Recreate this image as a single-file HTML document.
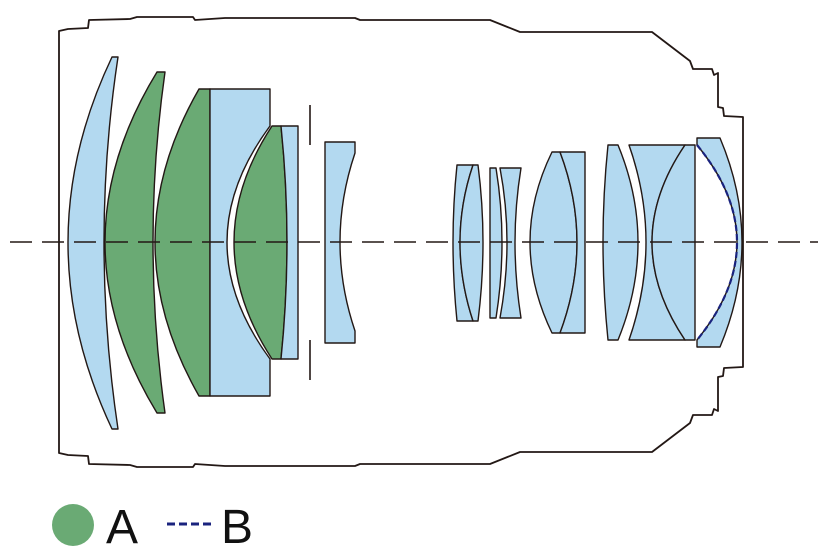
<!DOCTYPE html>
<html><head><meta charset="utf-8"><style>
html,body{margin:0;padding:0;background:#fff;width:820px;height:560px;overflow:hidden}
svg{display:block}
</style></head><body>
<svg width="820" height="560" viewBox="0 0 820 560" xmlns="http://www.w3.org/2000/svg">
<g fill="none" stroke="#231815" stroke-width="1.8" stroke-linejoin="round">
<path id="bt" d="M59,242 L59,31 L68,29 L88,28 L89,20 L130,19 L137,17 L193,17 L195,20 L225,18 L355,18 L360,20 L490,20 L520,32 L652,32 L690,61 L693,69 L712,69 L714,75 L718,73 L718,107 L723,108 L724,116 L743,117 L743,242"/>
<use href="#bt" transform="translate(0,484) scale(1,-1)"/>
</g>
<g stroke="#231815" stroke-width="1.4" stroke-linejoin="round">
<!-- L1 -->
<path fill="#b3d9f0" d="M112,57 L118,57 Q90,242 118,429 L112,429 Q24,242 112,57 Z"/>
<!-- L2 -->
<path fill="#6aaa74" d="M157,72 L165,72 Q141,242 165,413 L157,413 Q53,242 157,72 Z"/>
<!-- L3 -->
<path fill="#6aaa74" d="M199,89 L210,89 L210,396 L199,396 Q111,242 199,89 Z"/>
<!-- L4 -->
<path fill="#b3d9f0" d="M210,89 L270,89 L270,126 Q184,242 270,359 L270,396 L210,396 Z"/>
<!-- L5 -->
<path fill="#6aaa74" d="M272,126 L281,126 Q293,242 281,359 L272,359 Q196,242 272,126 Z"/>
<!-- L6 -->
<path fill="#b3d9f0" d="M281,126 L298,126 L298,359 L281,359 Q293,242 281,126 Z"/>
<!-- L7 -->
<path fill="#b3d9f0" d="M325,142 L355,142 L355,153 Q325,242 355,331 L355,343 L325,343 Z"/>
<!-- L8 -->
<path fill="#b3d9f0" d="M457,165 L473,165 Q447,242 473,321 L457,321 Q449,242 457,165 Z"/>
<path fill="#b3d9f0" d="M473,165 L478,165 Q488,242 478,321 L473,321 Q447,242 473,165 Z"/>
<!-- L9 -->
<path fill="#b3d9f0" d="M490,168 L496,168 Q508,242 496,318 L490,318 Z"/>
<!-- L10 -->
<path fill="#b3d9f0" d="M500,168 L521,168 Q509,242 521,318 L500,318 Q514,242 500,168 Z"/>
<!-- L11 -->
<path fill="#b3d9f0" d="M552,152 L560,152 Q594,242 560,333 L552,333 Q508,242 552,152 Z"/>
<path fill="#b3d9f0" d="M560,152 L585,152 L585,333 L560,333 Q594,242 560,152 Z"/>
<!-- L12 -->
<path fill="#b3d9f0" d="M608,145 L618,145 Q658,242 618,340 L608,340 Q598,242 608,145 Z"/>
<!-- L13 -->
<path fill="#b3d9f0" d="M629,145 L685,145 Q619,242 685,340 L629,340 Q663,242 629,145 Z"/>
<path fill="#b3d9f0" d="M685,145 L695,145 L695,340 L685,340 Q619,242 685,145 Z"/>
<!-- L14 -->
<path fill="#b3d9f0" d="M697,138 L720,138 Q764,242 720,347 L697,347 L697,340 Q777,242 697,145 Z"/>
</g>
<path d="M697,145 Q777,242 697,340" fill="none" stroke="#1a237e" stroke-width="2.2" stroke-dasharray="6,3"/>
<g stroke="#231815" stroke-width="1.6">
<line x1="310" y1="105" x2="310" y2="145"/>
<line x1="310" y1="340" x2="310" y2="380"/>
<line x1="10" y1="242" x2="818" y2="242" stroke-dasharray="22,10"/>
</g>
<circle cx="73" cy="525" r="21" fill="#6aaa74"/>
<text x="106" y="543" font-family="Liberation Sans, sans-serif" font-size="48" fill="#111">A</text>
<line x1="167" y1="524" x2="211" y2="524" stroke="#1a237e" stroke-width="3" stroke-dasharray="8,4"/>
<text x="221" y="543" font-family="Liberation Sans, sans-serif" font-size="48" fill="#111">B</text>
</svg>
</body></html>
